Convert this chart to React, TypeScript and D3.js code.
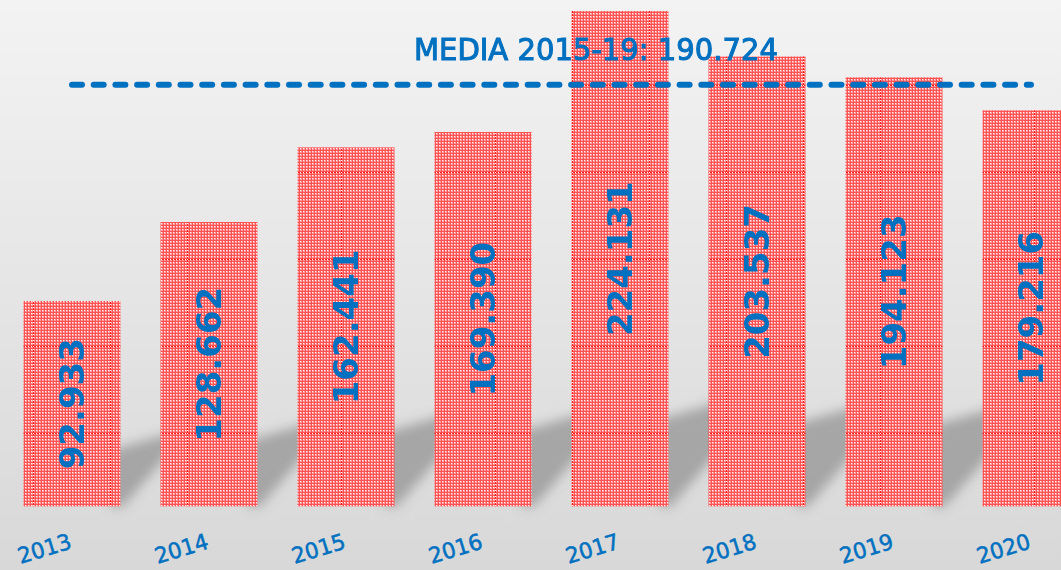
import React from "react";
import * as d3 from "d3";

const years = ["2013", "2014", "2015", "2016", "2017", "2018", "2019", "2020"];
const values = [92933, 128662, 162441, 169390, 224131, 203537, 194123, 179216];
const average = 190724;
const averagePrefix = "MEDIA 2015-19: ";

const W = 1061;
const H = 570;

const itFmt = d3.formatLocale({ decimal: ",", thousands: ".", grouping: [3], currency: ["€", ""] }).format(",d");

export default function App() {
  const x = d3
    .scaleBand<string>()
    .domain(years)
    .range([3.5, 3.5 + years.length * 137])
    .paddingInner(40 / 137)
    .paddingOuter(20 / 137);
  const y = d3.scaleLinear().domain([0, 229100]).range([506.4, 0]);
  const bw = x.bandwidth();
  const base = y(0);
  const blue = "#0070c0";

  const firstC = (x(years[0]) as number) + bw / 2;
  const lastC = (x(years[years.length - 1]) as number) + bw / 2;

  return (
    <div style={{ position: "absolute", left: 0, top: 0 }}>
      <svg width={W} height={H} style={{ display: "block" }}>
        <defs>
          <linearGradient id="bg" x1="0" y1="0" x2="0" y2="1">
            <stop offset="0%" stopColor="#f3f3f3" />
            <stop offset="100%" stopColor="#d8d8d8" />
          </linearGradient>
          <pattern id="checker" width={3} height={3} patternUnits="userSpaceOnUse">
            <rect width={3} height={3} fill="#ff5252" />
            <rect x={0} y={0} width={2} height={2} fill="#ff9e9e" />
            <rect x={0} y={0} width={1} height={1} fill="#fff4f4" />
          </pattern>
          <pattern id="tile" x={33} y={85} width={77} height={87} patternUnits="userSpaceOnUse">
            <rect width={77} height={87} fill="url(#checker)" />
            <line x1={0.5} y1={0} x2={0.5} y2={87} stroke="#ff1a1a" strokeWidth={1} />
            <line x1={0.5} y1={0} x2={0.5} y2={87} stroke="#ffffff" strokeWidth={1} strokeDasharray="1 2" />
            <line x1={0} y1={0.5} x2={77} y2={0.5} stroke="#ff1a1a" strokeWidth={1} />
            <line x1={0} y1={0.5} x2={77} y2={0.5} stroke="#ffffff" strokeWidth={1} strokeDasharray="1 2" />
          </pattern>
          <filter id="blur" x="-50%" y="-50%" width="200%" height="200%">
            <feGaussianBlur stdDeviation={6} />
          </filter>
        </defs>

        <rect x={0} y={0} width={W} height={H} fill="url(#bg)" />

        {/* shadows */}
        <g filter="url(#blur)">
          {years.map((yr, i) => {
            const x1 = (x(yr) as number) + bw;
            const h = base - y(values[i]);
            const off = 3.9 * Math.sqrt(h);
            const yt = base - off;
            const pts = [
              [x1 - 10, yt],
              [x1 + 60, yt - 20],
              [x1 + 60, base - 66],
              [x1 + 2, base],
              [x1 - 10, base],
            ];
            return <polygon key={yr} points={pts.map((p) => p.join(",")).join(" ")} fill="#777777" opacity={0.55} />;
          })}
        </g>

        {/* bars */}
        {years.map((yr, i) => (
          <rect
            key={yr}
            x={x(yr)}
            y={y(values[i])}
            width={bw}
            height={base - y(values[i])}
            fill="url(#tile)"
          />
        ))}

        {/* value labels */}
        {years.map((yr, i) => {
          const cx = (x(yr) as number) + bw / 2;
          const cy = (y(values[i]) + base) / 2;
          return (
            <text
              key={yr}
              transform={`translate(${cx},${cy}) rotate(-90)`}
              textAnchor="middle"
              dy="0.36em"
              fontFamily="DejaVu Sans"
              fontWeight="bold"
              fontSize={34}
              fill={blue}
            >
              {itFmt(values[i])}
            </text>
          );
        })}

        {/* average line */}
        <line
          x1={firstC}
          x2={lastC}
          y1={y(average)}
          y2={y(average)}
          stroke={blue}
          strokeWidth={6}
          strokeLinecap="round"
          strokeDasharray="10 11.7"
        />
        <text
          x={596}
          y={60}
          textAnchor="middle"
          fontFamily="DejaVu Sans"
          fontSize={31}
          fill={blue}
          stroke={blue}
          strokeWidth={1.1}
          textLength={364}
          lengthAdjust="spacingAndGlyphs"
        >
          {averagePrefix + itFmt(average)}
        </text>

        {/* year labels */}
        {years.map((yr) => {
          const cx = (x(yr) as number) + bw / 2;
          return (
            <text
              key={yr}
              transform={`translate(${cx + 1},${548}) rotate(-17)`}
              textAnchor="end"
              fontFamily="DejaVu Sans"
              fontSize={22}
              fill={blue}
              stroke={blue}
              strokeWidth={0.5}
              textLength={55}
              lengthAdjust="spacingAndGlyphs"
            >
              {yr}
            </text>
          );
        })}
      </svg>
    </div>
  );
}
